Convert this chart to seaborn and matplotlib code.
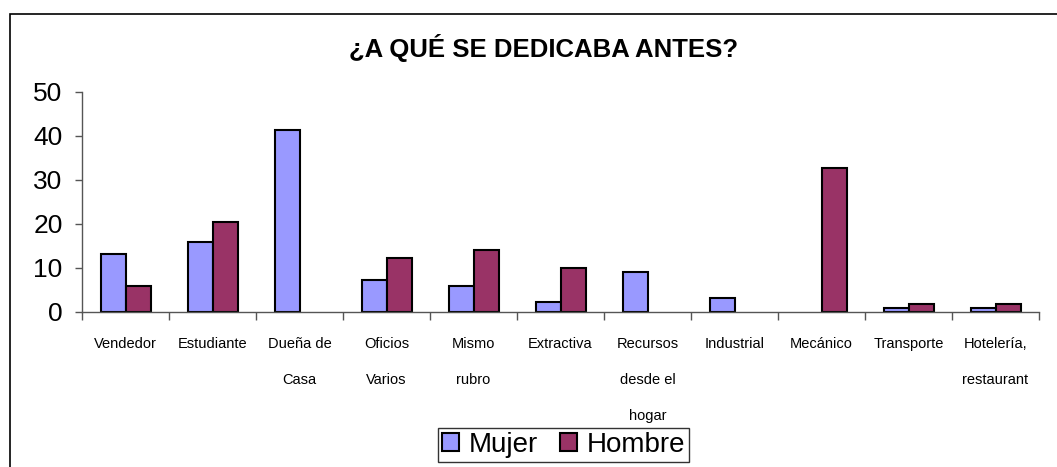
import numpy as np
import pandas as pd
import seaborn as sns
import matplotlib.pyplot as plt
from matplotlib.patches import Rectangle

categorias = ['Vendedor', 'Estudiante', 'Dueña de\nCasa', 'Oficios\nVarios', 'Mismo\nrubro',
              'Extractiva', 'Recursos\ndesde el\nhogar', 'Industrial', 'Mecánico',
              'Transporte', 'Hotelería,\nrestaurant']
mujer = [13.2, 15.9, 41.4, 7.3, 5.9, 2.3, 9.1, 3.2, 0, 0.9, 0.9]
hombre = [5.9, 20.5, 0, 12.3, 14.1, 10.0, 0, 0, 32.7, 1.8, 1.8]

df = pd.DataFrame({
    'cat': categorias * 2,
    'valor': mujer + hombre,
    'sexo': ['Mujer'] * len(categorias) + ['Hombre'] * len(categorias),
})
# sin barra donde el valor es cero
df['valor'] = df['valor'].replace(0, np.nan)

sns.set_style('white')
plt.rcParams['font.family'] = ['Liberation Sans', 'DejaVu Sans']
plt.rcParams['text.color'] = 'black'
plt.rcParams['xtick.color'] = 'black'
plt.rcParams['ytick.color'] = 'black'

fig = plt.figure(figsize=(10.57, 4.67), dpi=100)
ax = fig.add_axes([0.0776, 0.332, 0.9054, 0.471])

sns.barplot(data=df, x='cat', y='valor', hue='sexo', order=categorias,
            hue_order=['Mujer', 'Hombre'],
            palette={'Mujer': '#9999FF', 'Hombre': '#993366'}, saturation=1,
            width=0.575, edgecolor='black', linewidth=1.5, ax=ax)

ax.set_ylim(0, 50)
ax.set_xlim(-0.5, len(categorias) - 0.5)
ax.set_yticks([0, 10, 20, 30, 40, 50])
ax.tick_params(axis='y', labelsize=19, length=5, width=1, color='#555555', left=True, pad=9,
               labelcolor='black')
ax.tick_params(axis='x', which='major', length=0, labelsize=10.5, pad=18, labelcolor='black')
ax.set_xticks(np.arange(-0.5, len(categorias)), minor=True)
ax.tick_params(axis='x', which='minor', length=6, width=1, color='#555555', bottom=True)
for lbl in ax.get_xticklabels():
    lbl.set_linespacing(3.0)
ax.set_xlabel('')
ax.set_ylabel('')
for s in ['top', 'right']:
    ax.spines[s].set_visible(False)
for s in ['left', 'bottom']:
    ax.spines[s].set_color('#555555')
    ax.spines[s].set_linewidth(1)

fig.text(0.514, 0.897, '¿A QUÉ SE DEDICABA ANTES?', ha='center', va='center',
         fontsize=18.5, fontweight='bold', color='black')

leg = ax.legend(loc='center', bbox_to_anchor=(0.533, 0.047), bbox_transform=fig.transFigure,
                ncol=2, fontsize=20, frameon=True, fancybox=False, shadow=False,
                handlelength=0.6, handleheight=0.6, handletextpad=0.35, columnspacing=0.8,
                borderpad=0.15, borderaxespad=0)
leg.get_frame().set_edgecolor('black')
leg.get_frame().set_linewidth(1)
for t in leg.get_texts():
    t.set_color('black')

fig.patches.append(Rectangle((10 / 1057, -0.2), 1.2, 0.2 + 1 - 14 / 467,
                             transform=fig.transFigure, fill=False,
                             edgecolor='black', linewidth=1.2))

fig.savefig('out.png', dpi=100)
